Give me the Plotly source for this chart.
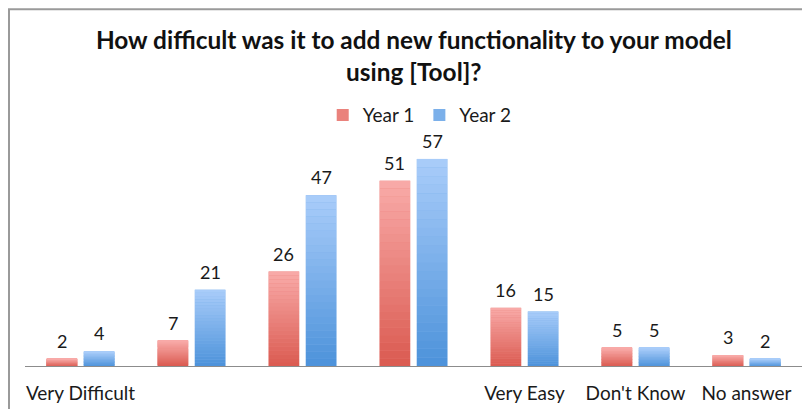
import plotly.graph_objects as go

categories = ["Very Difficult", "", "", "", "Very Easy", "Don't Know", "No answer"]
year1 = [2, 7, 26, 51, 16, 5, 3]
year2 = [4, 21, 47, 57, 15, 5, 2]
series_names = ["Year 1", "Year 2"]

FONT = "Lato"
N_SEG = 24
W = 0.275
OFFSETS = [-0.305, 0.03]
COLORS = [((0xDA, 0x5A, 0x50), (0xF9, 0xAB, 0xA9)),
          ((0x4C, 0x92, 0xDA), (0xAA, 0xCD, 0xFA))]

def mix(c0, c1, t):
    return "rgb(%d,%d,%d)" % tuple(round(a + (b - a) * t) for a, b in zip(c0, c1))

x = list(range(len(categories)))
fig = go.Figure()
for s, (name, vals) in enumerate(zip(series_names, [year1, year2])):
    bot, top = COLORS[s]
    fig.add_trace(go.Bar(x=x, y=vals, name=name, offset=OFFSETS[s], width=W,
                         marker=dict(color=mix(bot, top, 0.5), line=dict(width=0)),
                         hoverinfo="skip"))
    for k in range(N_SEG):
        fig.add_trace(go.Bar(x=x, y=[v / N_SEG for v in vals],
                             base=[v * k / N_SEG for v in vals],
                             offset=OFFSETS[s], width=W, showlegend=False,
                             marker=dict(color=mix(bot, top, (k + 0.5) / N_SEG), line=dict(width=0)),
                             hoverinfo="skip"))
    for i, v in enumerate(vals):
        fig.add_annotation(x=i + OFFSETS[s] + W / 2, y=v, text=str(v), showarrow=False,
                           yanchor="bottom", yshift=5,
                           font=dict(family=FONT, size=18, color="#1a1a1a"))

fig.update_layout(
    width=802, height=401,
    barmode="overlay",
    paper_bgcolor="white", plot_bgcolor="white",
    margin=dict(l=17, r=8, t=140, b=43, autoexpand=False),
    title=dict(text="<b>How difficult was it to add new functionality to your model<br>using [Tool]?</b>",
               x=0.506, xanchor="center", y=0.897, yanchor="middle",
               font=dict(family=FONT, size=24.4, color="#111")),
    legend=dict(orientation="h", x=0.508, xanchor="center", y=1.151, yanchor="middle",
                font=dict(family=FONT, size=19, color="#1a1a1a"),
                tracegroupgap=0, bgcolor="rgba(0,0,0,0)"),
    showlegend=True,
)
fig.update_xaxes(range=[-0.5, 6.5], tickvals=x, ticktext=categories, showgrid=False,
                 showline=True, linecolor="#8c8c8c", linewidth=1, ticks="",
                 ticklabelstandoff=10, zeroline=False,
                 tickfont=dict(family=FONT, size=19, color="#1a1a1a"))
fig.update_yaxes(range=[0, 60], visible=False, showgrid=False, zeroline=False)
fig.add_shape(type="rect", xref="paper", yref="paper", x0=-0.0206, x1=1.05, y0=-0.6, y1=1.636,
              line=dict(color="#9a9a9a", width=2), fillcolor="rgba(0,0,0,0)", layer="below")

fig.write_html("out.html")
